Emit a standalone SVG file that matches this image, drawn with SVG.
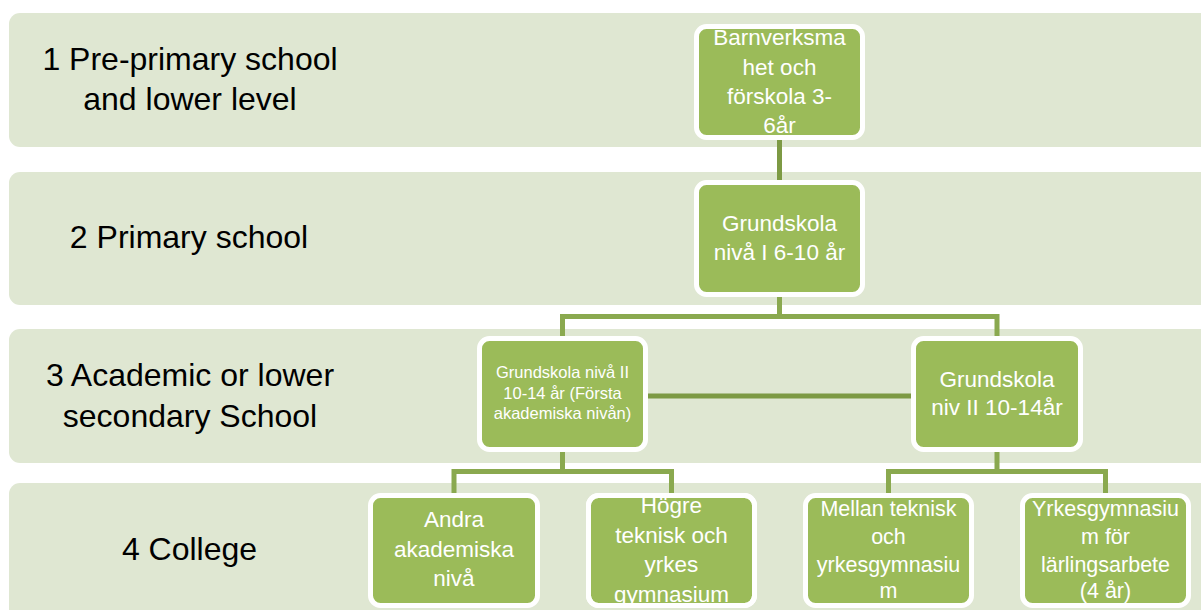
<svg xmlns="http://www.w3.org/2000/svg" width="1201" height="610" viewBox="0 0 1201 610">
  <style>
    .band { fill: #dfe7d2; }
    .lbl { font-family: "Liberation Sans", Arial, sans-serif; font-size: 32px; fill: #000; text-anchor: middle; }
    .box { fill: #9bbb59; stroke: #ffffff; stroke-width: 5; }
    .t { font-family: "Liberation Sans", Arial, sans-serif; font-size: 22.5px; fill: #ffffff; text-anchor: middle; }
    .ts { font-size: 16.5px; }
    .tm { font-size: 21.5px; }
    .con { fill: none; stroke: #8aa94f; stroke-width: 5; }
    .con-dark { fill: none; stroke: #7d9a44; stroke-width: 5; }
  </style>
  <defs>
    <clipPath id="clip4b"><rect x="591" y="498" width="161" height="106" rx="8"/></clipPath>
  </defs>
  <rect width="1201" height="610" fill="#ffffff"/>

  <g id="bands">
    <rect class="band" x="9" y="13" width="1210" height="134" rx="11"/>
    <rect class="band" x="9" y="172" width="1210" height="133" rx="11"/>
    <rect class="band" x="9" y="329" width="1210" height="134" rx="11"/>
    <rect class="band" x="9" y="483" width="1210" height="140" rx="11"/>
    <text class="lbl" x="190" y="70">1 Pre-primary school</text>
    <text class="lbl" x="190" y="110">and lower level</text>
    <text class="lbl" x="189" y="248">2 Primary school</text>
    <text class="lbl" x="190" y="386">3 Academic or lower</text>
    <text class="lbl" x="190" y="427">secondary School</text>
    <text class="lbl" x="189.5" y="560">4 College</text>
  </g>

  <g id="connectors">
    <path class="con-dark" d="M779.5 140 V180"/>
    <path class="con" d="M779.5 297 V316.5 M562.5 336 V316.5 H997 V336"/>
    <path class="con-dark" d="M648 396 H911" stroke-width="6"/>
    <path class="con" d="M562.5 452 V471.5 M454 493 V471.5 H671.5 V493"/>
    <path class="con" d="M997 452 V471.5 M888.5 493 V471.5 H1105.5 V493"/>
  </g>

  <g id="node-barnverksamhet">
    <rect class="box" x="696.5" y="26.5" width="166" height="111" rx="10"/>
    <text class="t" x="779.5" y="45">Barnverksma</text>
    <text class="t" x="779.5" y="74.5">het och</text>
    <text class="t" x="779.5" y="104">förskola 3-</text>
    <text class="t" x="779.5" y="133">6år</text>
  </g>

  <g id="node-grundskola-1">
    <rect class="box" x="696.5" y="182.5" width="166" height="112" rx="10"/>
    <text class="t" x="779.5" y="231">Grundskola</text>
    <text class="t" x="779.5" y="260">nivå I 6-10 år</text>
  </g>

  <g id="node-grundskola-2a">
    <rect class="box" x="479.5" y="338.5" width="166" height="111" rx="10"/>
    <text class="t ts" x="562.5" y="378">Grundskola nivå II</text>
    <text class="t ts" x="562.5" y="398.5">10-14 år (Första</text>
    <text class="t ts" x="562.5" y="419">akademiska nivån)</text>
  </g>

  <g id="node-grundskola-2b">
    <rect class="box" x="913.5" y="338.5" width="167" height="111" rx="10"/>
    <text class="t" x="997" y="387">Grundskola</text>
    <text class="t" x="997" y="415">niv II 10-14år</text>
  </g>

  <g id="node-andra">
    <rect class="box" x="370.5" y="495.5" width="167" height="110" rx="10"/>
    <text class="t" x="454" y="527">Andra</text>
    <text class="t" x="454" y="557">akademiska</text>
    <text class="t" x="454" y="586">nivå</text>
  </g>

  <g id="node-hogre">
    <rect class="box" x="588.5" y="495.5" width="166" height="110" rx="10"/>
    <g clip-path="url(#clip4b)">
      <text class="t" x="671.5" y="513">Högre</text>
      <text class="t" x="671.5" y="543">teknisk och</text>
      <text class="t" x="671.5" y="572">yrkes</text>
      <text class="t" x="671.5" y="602">gymnasium</text>
    </g>
    <rect x="588.5" y="495.5" width="166" height="110" rx="10" fill="none" stroke="#ffffff" stroke-width="5"/>
  </g>

  <g id="node-mellan">
    <rect class="box" x="805.5" y="495.5" width="166" height="110" rx="10"/>
    <text class="t tm" x="888.5" y="516">Mellan teknisk</text>
    <text class="t tm" x="888.5" y="544">och</text>
    <text class="t tm" x="888.5" y="571.5">yrkesgymnasiu</text>
    <text class="t tm" x="888.5" y="598">m</text>
  </g>

  <g id="node-yrkes">
    <rect class="box" x="1022.5" y="495.5" width="166" height="110" rx="10"/>
    <text class="t tm" x="1105.5" y="516">Yrkesgymnasiu</text>
    <text class="t tm" x="1105.5" y="544">m för</text>
    <text class="t tm" x="1105.5" y="571.5">lärlingsarbete</text>
    <text class="t tm" x="1105.5" y="598">(4 år)</text>
  </g>
</svg>
